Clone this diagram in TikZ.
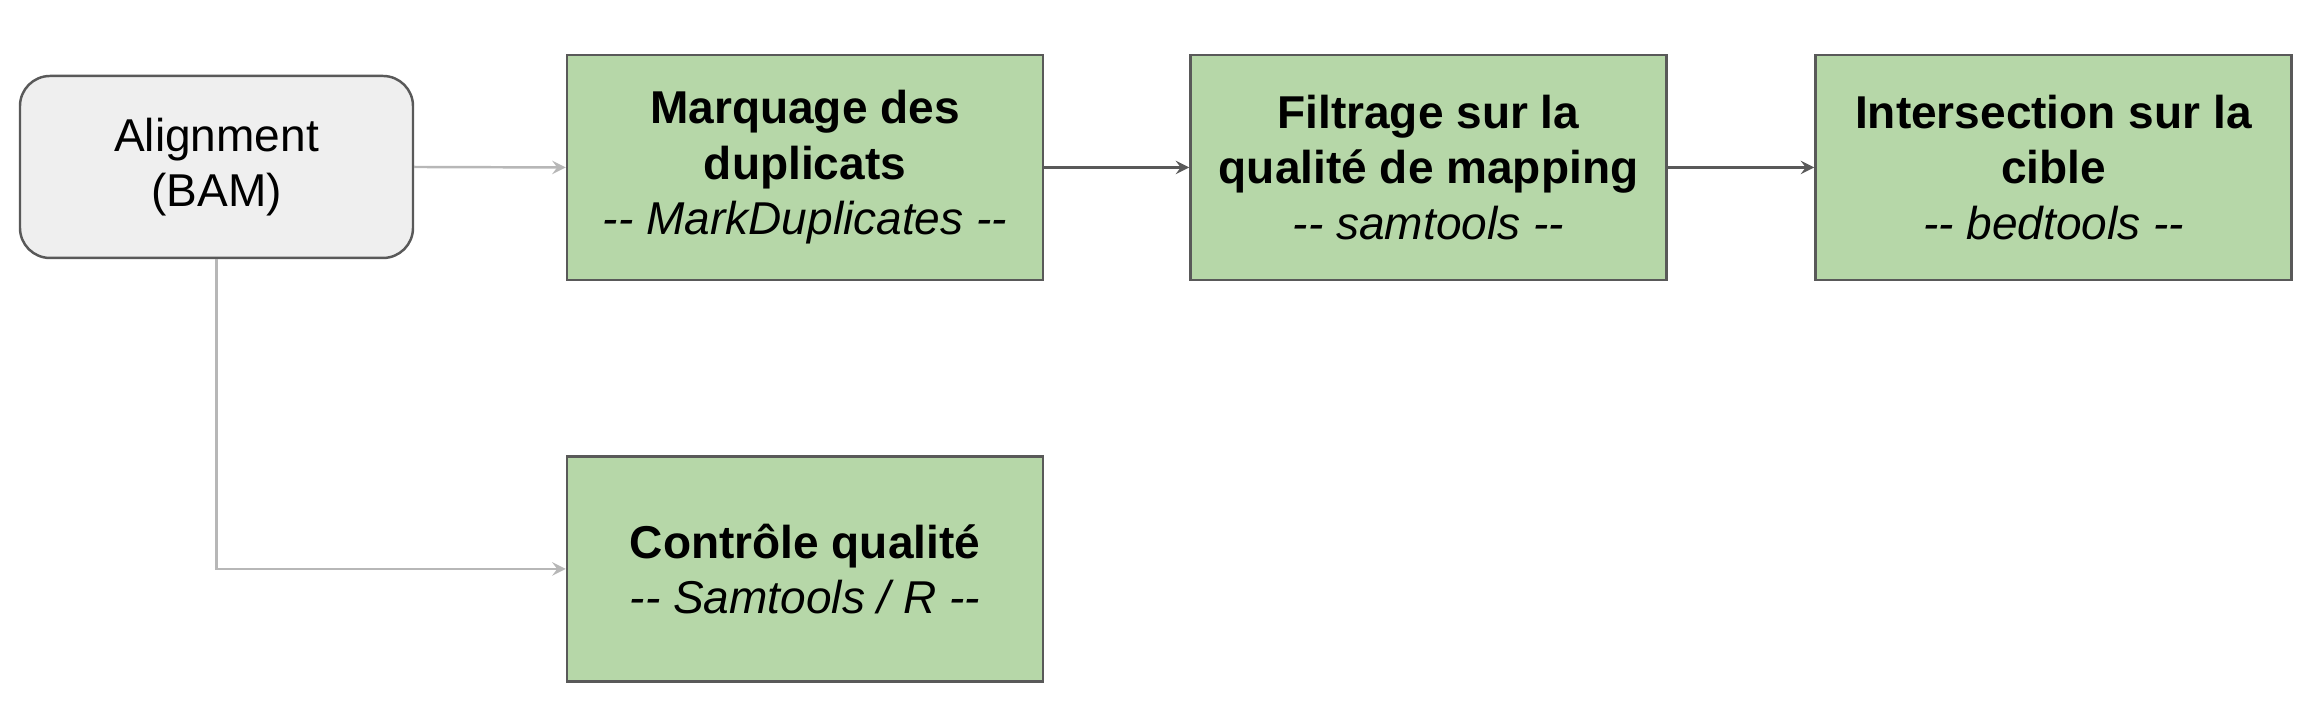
\documentclass[tikz,border=0pt]{standalone}
\usepackage{fontspec}
\setmainfont{Liberation Sans}
\usetikzlibrary{calc}
\definecolor{boxgreen}{HTML}{B6D7A8}
\definecolor{boxline}{HTML}{595959}
\definecolor{inputfill}{HTML}{EFEFEF}
\definecolor{linkgray}{HTML}{B7B7B7}

\begin{document}
\begin{tikzpicture}[
		stepbox/.style={draw=boxline,fill=boxgreen,line width=0.7pt,minimum width=4.76cm,minimum height=2.25cm,align=center,font=\fontsize{13.1}{15.8}\selectfont},
		inputbox/.style={draw=boxline,fill=inputfill,line width=0.7pt,rounded corners=0.3cm,minimum width=3.93cm,minimum height=1.82cm,align=center,font=\fontsize{13.1}{15.8}\selectfont},
		lightlink/.style={-stealth,linkgray,line width=0.7pt},
		darklink/.style={-stealth,boxline,line width=0.7pt}]
		\useasboundingbox (0,0) rectangle (23.23,7.2);
		\node[inputbox] (align) at (2.165,5.53) {Alignment\\(BAM)};
		\node[stepbox] (mark) at (8.05,5.525) {\textbf{Marquage des}\\\textbf{duplicats}\\\textit{-{}- MarkDuplicates -{}-}};
		\node[stepbox] (filter) at (14.285,5.525) {\textbf{Filtrage sur la}\\\textbf{qualité de mapping}\\\textit{-{}- samtools -{}-}};
		\node[stepbox] (target) at (20.535,5.525) {\textbf{Intersection sur la}\\\textbf{cible}\\\textit{-{}- bedtools -{}-}};
		\node[stepbox] (qc) at (8.05,1.51) {\textbf{Contrôle qualité}\\\textit{-{}- Samtools / R -{}-}};
		\draw[lightlink] (align.east) -- (mark.west);
		\draw[lightlink] (align.south) |- (qc.west);
		\draw[darklink] (mark.east) -- (filter.west);
		\draw[darklink] (filter.east) -- (target.west);
	\end{tikzpicture}
\end{document}
